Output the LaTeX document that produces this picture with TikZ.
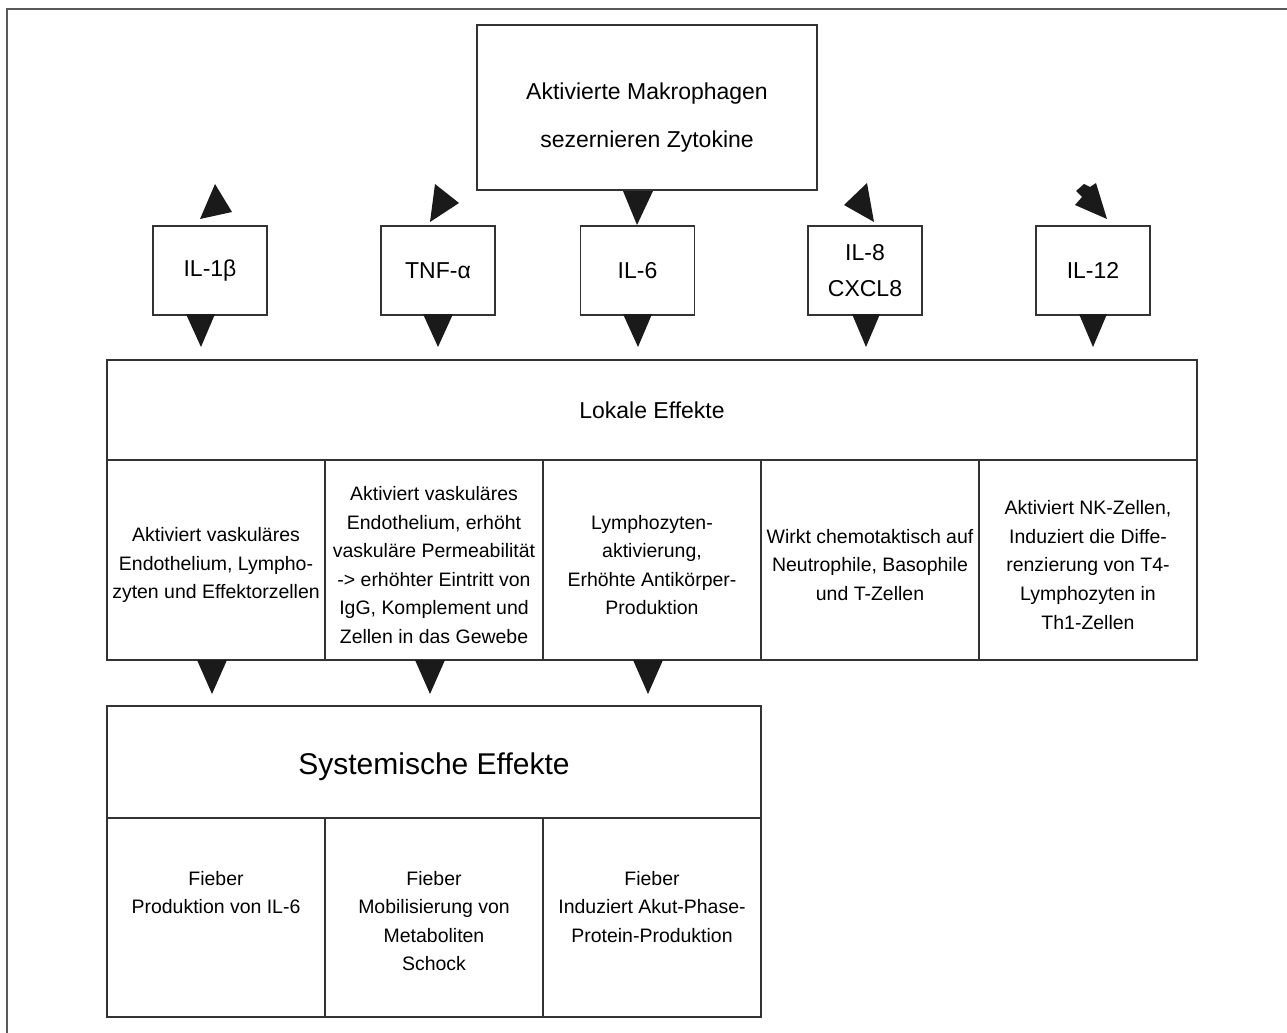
\documentclass[tikz,border=0pt]{standalone}
\usepackage{fontspec}
\setmainfont{Liberation Sans}
\usetikzlibrary{calc}
\definecolor{framec}{HTML}{5A5A5A}
\definecolor{linec}{HTML}{333333}
\definecolor{tric}{HTML}{1A1A1A}
\begin{document}
\begin{tikzpicture}[x=0.75pt,y=-0.75pt,
  box/.style={draw=linec,line width=1.1pt,inner sep=0pt,outer sep=0pt,align=center},
  small/.style={box,minimum width=85.5pt,minimum height=66.75pt,font=\fontsize{17.25}{26.5}\selectfont},
  lcol/.style={box,minimum width=163.5pt,minimum height=150pt},
  scol/.style={box,minimum width=163.5pt,minimum height=149.25pt},
  ltext/.style={inner sep=0pt,align=center,font=\fontsize{14.6}{21.4}\selectfont},
  stext/.style={inner sep=0pt,anchor=north,align=center,font=\fontsize{14.6}{21.4}\selectfont},
  tri/.style={fill=tric}]
\useasboundingbox (0,0) rectangle (1287,1032);
\draw[framec,line width=1.6pt] (7,1040) -- (7,9) -- (1295,9);

% top box
\node[box,minimum width=255pt,minimum height=123.75pt] (mac) at (647,107.5) {};
\node[inner sep=0pt,align=center,font=\fontsize{17.25}{36}\selectfont] (mact) at (647,118) {Aktivierte Makrophagen\\sezernieren Zytokine};

% cytokine boxes
\node[small] (il1) at (210,270.5) {IL-1β};
\node[small] (tnf) at (438,270.5) {TNF-α};
\node[small] (il6) at (637.5,270.5) {IL-6};
\node[small] (il8) at (865,270.5) {IL-8\\CXCL8};
\node[small] (il12) at (1093,270.5) {IL-12};

% local effects
\node[box,minimum width=817.5pt,minimum height=75pt,font=\fontsize{17.25}{21}\selectfont] (lok) at (652,410) {Lokale Effekte};
\node[lcol] (l1) at (216,560) {};
\node[lcol] (l2) at (434,560) {};
\node[lcol] (l3) at (652,560) {};
\node[lcol] (l4) at (870,560) {};
\node[lcol] (l5) at (1088,560) {};
\node[ltext] (l1t) at (216,565) {Aktiviert vaskuläres\\Endothelium, Lympho-\\zyten und Effektorzellen};
\node[ltext] (l2t) at (434,565) {Aktiviert vaskuläres\\Endothelium, erhöht\\vaskuläre Permeabilität\\-> erhöhter Eintritt von\\IgG, Komplement und\\Zellen in das Gewebe};
\node[ltext] (l3t) at (652,565) {Lymphozyten-\\aktivierung,\\Erhöhte Antikörper-\\Produktion};
\node[ltext] (l4t) at (870,565) {Wirkt chemotaktisch auf\\Neutrophile, Basophile\\und T-Zellen};
\node[ltext] (l5t) at (1088,565) {Aktiviert NK-Zellen,\\Induziert die Diffe-\\renzierung von T4-\\Lymphozyten in\\Th1-Zellen};

% systemic effects
\node[box,minimum width=490.5pt,minimum height=84pt] (sys) at (434,762) {};
\node[inner sep=0pt,font=\fontsize{22.5}{27}\selectfont] (syst) at (434,767) {Systemische Effekte};
\node[scol] (s1) at (216,917.5) {};
\node[scol] (s2) at (434,917.5) {};
\node[scol] (s3) at (652,917.5) {};
\node[stext] (s1t) at (216,871) {Fieber\\Produktion von IL-6};
\node[stext] (s2t) at (434,871) {Fieber\\Mobilisierung von\\Metaboliten\\Schock};
\node[stext] (s3t) at (652,871) {Fieber\\Induziert Akut-Phase-\\Protein-Produktion};

% arrowheads from the macrophage box
\fill[tri] (215,184) -- (232,212) -- (200,219) -- cycle;
\fill[tri] (435,184) -- (459,203) -- (430,222) -- cycle;
\fill[tri] (623,191) -- (653,191) -- (637,225) -- cycle;
\fill[tri] (867,183) -- (874,222) -- (844,205) -- cycle;
\fill[tri] (1076,191) -- (1084,184) -- (1090,187) -- (1096,183) -- (1107,219) -- (1075,205) -- (1082,197) -- cycle;

% arrowheads below the cytokine boxes
\fill[tri] (186,314) -- (215,314) -- (201,347) -- cycle;
\fill[tri] (423,314) -- (453,314) -- (438,347) -- cycle;
\fill[tri] (623,314) -- (652,314) -- (638,347) -- cycle;
\fill[tri] (852,314) -- (880,314) -- (866,347) -- cycle;
\fill[tri] (1079,314) -- (1107,314) -- (1093,347) -- cycle;

% arrowheads below the local effects
\fill[tri] (197,660) -- (227,660) -- (212,694) -- cycle;
\fill[tri] (415,660) -- (445,660) -- (430,694) -- cycle;
\fill[tri] (633,660) -- (663,660) -- (648,694) -- cycle;
\end{tikzpicture}
\end{document}
